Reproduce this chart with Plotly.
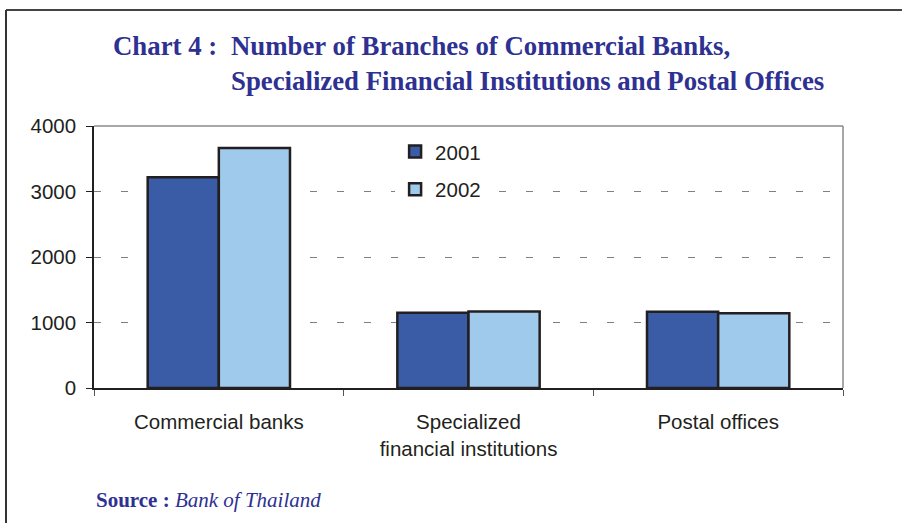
import plotly.graph_objects as go

categories = ["Commercial banks", "Specialized<br>financial institutions", "Postal offices"]
years = ["2001", "2002"]
values_2001 = [3216, 1148, 1166]
values_2002 = [3664, 1168, 1142]
y_ticks = [0, 1000, 2000, 3000, 4000]

colors = {"2001": "#3A5BA5", "2002": "#A0CAEB"}
series = {"2001": values_2001, "2002": values_2002}

fig = go.Figure()
for i, yr in enumerate(years):
    fig.add_trace(go.Bar(
        x=categories, y=series[yr], name=yr,
        marker=dict(color=colors[yr], line=dict(color="#231F20", width=2.5)),
        legendgroup=yr,
    ))

title_color = "#2E3192"
serif = "Liberation Serif, Times New Roman, serif"
fig.update_layout(
    width=902, height=523,
    margin=dict(l=94, r=59, t=126, b=135),
    paper_bgcolor="white", plot_bgcolor="white",
    barmode="group", bargap=0.43, bargroupgap=0,
    font=dict(family="Liberation Sans, Arial, sans-serif", size=20.5, color="#231F20"),
    showlegend=True,
    legend=dict(x=0.402, y=0.978, xanchor="left", yanchor="top", bgcolor="white",
                traceorder="grouped", tracegroupgap=8,
                font=dict(size=20.5), itemwidth=30),
    xaxis=dict(showline=True, linecolor="#231F20", linewidth=1.5,
               ticks="outside", tickson="boundaries", ticklen=6, tickcolor="#555",
               ticklabelstandoff=15, showgrid=False),
    yaxis=dict(range=[0, 4000], tickvals=y_ticks, showline=True, linecolor="#231F20",
               linewidth=1.5, ticks="outside", ticklen=6, tickcolor="#231F20",
               showgrid=True, gridcolor="#808080", gridwidth=1, griddash="7px,20px",
               zeroline=False, ticklabelstandoff=6),
)

# plot frame (top and right)
fig.add_shape(type="line", xref="paper", yref="paper", x0=0, x1=1, y0=1, y1=1,
              line=dict(color="#8a8a8a", width=1.5))
fig.add_shape(type="line", xref="paper", yref="paper", x0=1, x1=1, y0=0, y1=1,
              line=dict(color="#8a8a8a", width=1.5))
# outer border lines (top and left)
fig.add_shape(type="line", xref="paper", yref="paper",
              x0=-88/749, x1=808/749, y0=1 + 116/262, y1=1 + 116/262,
              line=dict(color="#444", width=2))
fig.add_shape(type="line", xref="paper", yref="paper",
              x0=-88/749, x1=-88/749, y0=1 + 116/262, y1=-135/262,
              line=dict(color="#333", width=2))

fig.add_annotation(text="<b>Chart 4 :</b>", xref="paper", yref="paper",
                   x=(111 - 94) / 749, y=1 + (126 - 29) / 262, xanchor="left", yanchor="top",
                   showarrow=False, align="left",
                   font=dict(family=serif, size=26.8, color=title_color))
fig.add_annotation(text="<b>Number of Branches of Commercial Banks,<br>Specialized Financial Institutions and Postal Offices</b>",
                   xref="paper", yref="paper",
                   x=(229 - 94) / 749, y=1 + (126 - 29) / 262, xanchor="left", yanchor="top",
                   showarrow=False, align="left",
                   font=dict(family=serif, size=26.8, color=title_color))
fig.add_annotation(text="<b>Source :</b> <i>Bank of Thailand</i>", xref="paper", yref="paper",
                   x=0, y=-(500 - 388) / 262, xanchor="left", yanchor="middle",
                   showarrow=False, align="left",
                   font=dict(family=serif, size=21, color=title_color))

fig.write_html("out.html")
